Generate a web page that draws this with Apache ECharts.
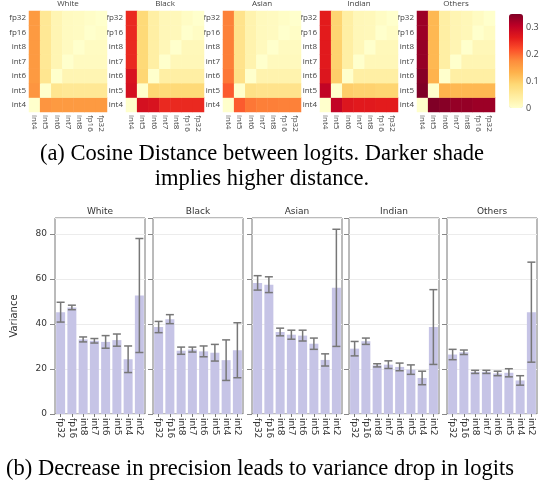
<!DOCTYPE html>
<html>
<head>
<meta charset="utf-8">
<script src="https://cdn.jsdelivr.net/npm/echarts@6/dist/echarts.min.js"></script>
<style>
  html, body { margin: 0; padding: 0; background: #fff; }
  #main { width: 544px; height: 491px; }
</style>
</head>
<body>
<div id="main"></div>
<script>
// groups shown in both rows of panels
const groups = ['White', 'Black', 'Asian', 'Indian', 'Others'];

// heatmap levels, index order used by the distance matrices
const hmLevels = ['int4', 'int5', 'int6', 'int7', 'int8', 'fp16', 'fp32'];

// cosine distance matrices (row/col order = hmLevels)
const distWhite = [
  [0, .165, .16, .16, .16, .16, .16],
  [.165, 0, .06, .055, .055, .055, .055],
  [.16, .06, 0, .025, .025, .025, .025],
  [.16, .055, .025, 0, .012, .012, .012],
  [.16, .055, .025, .012, 0, .01, .01],
  [.16, .055, .025, .012, .01, 0, .005],
  [.16, .055, .025, .012, .01, .005, 0]
];
const distBlack = [
  [0, .28, .275, .25, .25, .25, .25],
  [.28, 0, .09, .085, .085, .085, .085],
  [.275, .09, 0, .04, .04, .04, .04],
  [.25, .085, .04, 0, .02, .02, .02],
  [.25, .085, .04, .02, 0, .018, .018],
  [.25, .085, .04, .02, .018, 0, .008],
  [.25, .085, .04, .02, .018, .008, 0]
];
const distAsian = [
  [0, .21, .19, .185, .185, .183, .183],
  [.21, 0, .07, .065, .065, .065, .065],
  [.19, .07, 0, .03, .03, .03, .03],
  [.185, .065, .03, 0, .015, .015, .015],
  [.185, .065, .03, .015, 0, .012, .012],
  [.183, .065, .03, .015, .012, 0, .006],
  [.183, .065, .03, .015, .012, .006, 0]
];
const distIndian = [
  [0, .30, .27, .265, .265, .262, .262],
  [.30, 0, .1, .095, .095, .092, .092],
  [.27, .1, 0, .04, .04, .04, .04],
  [.265, .095, .04, 0, .02, .02, .02],
  [.265, .095, .04, .02, 0, .018, .018],
  [.262, .092, .04, .02, .018, 0, .008],
  [.262, .092, .04, .02, .018, .008, 0]
];
const distOthers = [
  [0, .35, .345, .335, .335, .33, .33],
  [.35, 0, .13, .125, .125, .125, .125],
  [.345, .13, 0, .04, .04, .04, .04],
  [.335, .125, .04, 0, .025, .025, .025],
  [.335, .125, .04, .025, 0, .02, .02],
  [.33, .125, .04, .025, .02, 0, .01],
  [.33, .125, .04, .025, .02, .01, 0]
];
const distAll = [distWhite, distBlack, distAsian, distIndian, distOthers];

// variance bars
const barLevels = ['fp32', 'fp16', 'int8', 'int7', 'int6', 'int5', 'int4', 'int2'];
const varWhite  = [45.2, 47.3, 33.1, 32.5, 32.0, 32.8, 24.3, 52.6];
const errWhite  = [4.4, 1.0, 1.1, 1.0, 2.8, 2.7, 5.9, 25.3];
const varBlack  = [38.6, 42.1, 28.1, 28.6, 27.8, 27.2, 23.9, 28.3];
const errBlack  = [2.5, 2.0, 1.6, 1.1, 2.4, 3.7, 9.0, 12.2];
const varAsian  = [58.2, 57.4, 36.4, 35.2, 34.8, 31.2, 24.0, 56.0];
const errAsian  = [3.2, 3.5, 1.7, 2.0, 2.4, 2.5, 2.7, 26.0];
const varIndian = [29.0, 32.3, 21.6, 21.9, 20.9, 19.7, 16.0, 38.6];
const errIndian = [3.2, 1.4, 0.7, 1.7, 1.7, 2.1, 3.0, 16.6];
const varOthers = [26.4, 27.4, 18.7, 18.7, 18.0, 18.3, 14.9, 45.2];
const errOthers = [2.3, 1.0, 0.7, 0.7, 1.0, 1.8, 2.1, 22.2];
const varAll = [varWhite, varBlack, varAsian, varIndian, varOthers];
const errAll = [errWhite, errBlack, errAsian, errIndian, errOthers];

const ylOrRd = ['#ffffcc', '#ffeda0', '#fed976', '#feb24c', '#fd8d3c', '#fc4e2a', '#e31a1c', '#bd0026', '#800026'];

const hmLeft = [29, 126, 223, 320, 417];
const barLeft = [55, 153, 252, 349, 447];

const grids = [], xAxes = [], yAxes = [], series = [], titles = [];

groups.forEach((g, i) => {
  grids.push({ left: hmLeft[i], top: 11, width: 78, height: 101 });
  xAxes.push({
    type: 'category', gridIndex: i, data: hmLevels,
    axisLine: { show: false }, axisTick: { show: false },
    axisLabel: { interval: 0, rotate: -90, fontSize: 8, color: '#444', margin: 3, fontFamily: 'Open Sans' }
  });
  yAxes.push({
    type: 'category', gridIndex: i, data: hmLevels,
    axisLine: { show: false }, axisTick: { show: false },
    axisLabel: { interval: 0, fontSize: 8, color: '#444', margin: 3, fontFamily: 'Open Sans' }
  });
  const d = [];
  distAll[i].forEach((row, r) => row.forEach((v, c) => d.push([c, r, v])));
  series.push({
    type: 'heatmap', xAxisIndex: i, yAxisIndex: i, data: d,
    itemStyle: { borderWidth: 0 }, emphasis: { disabled: true }
  });
  titles.push({
    text: g, left: hmLeft[i] + 39, top: 0, textAlign: 'center', padding: 0,
    textStyle: { fontSize: 8, fontWeight: 'normal', color: '#444', fontFamily: 'Open Sans' }
  });
});

function renderErr(params, api) {
  const k = api.value(0);
  const top = api.coord([k, api.value(2)]);
  const bot = api.coord([k, api.value(1)]);
  const w = 4;
  const st = { stroke: '#777', lineWidth: 1.5 };
  return {
    type: 'group', children: [
      { type: 'line', shape: { x1: top[0], y1: top[1], x2: bot[0], y2: bot[1] }, style: st },
      { type: 'line', shape: { x1: top[0] - w, y1: top[1], x2: top[0] + w, y2: top[1] }, style: st },
      { type: 'line', shape: { x1: bot[0] - w, y1: bot[1], x2: bot[0] + w, y2: bot[1] }, style: st }
    ]
  };
}

groups.forEach((g, i) => {
  const gi = 5 + i;
  grids.push({
    left: barLeft[i], top: 218, width: 90, height: 196,
    show: true, borderColor: '#777', borderWidth: 1
  });
  xAxes.push({
    type: 'category', gridIndex: gi, data: barLevels,
    axisLine: { show: false },
    axisTick: { show: true, alignWithLabel: true, length: 3, lineStyle: { color: '#777' } },
    axisLabel: { interval: 0, rotate: -90, fontSize: 9, color: '#333', margin: 4, fontFamily: 'DejaVu Sans' }
  });
  yAxes.push({
    type: 'value', gridIndex: gi, min: 0, max: 87, interval: 20,
    name: i === 0 ? 'Variance' : '', nameLocation: 'middle', nameGap: 36,
    nameTextStyle: { fontSize: 10, color: '#333', fontFamily: 'DejaVu Sans' },
    axisLine: { show: false },
    axisTick: { show: true, length: 5, lineStyle: { color: '#888' } },
    splitLine: { show: true, lineStyle: { color: '#ececec' } },
    axisLabel: { show: i === 0, fontSize: 9, color: '#333', showMaxLabel: false, fontFamily: 'DejaVu Sans' }
  });
  series.push({
    type: 'bar', xAxisIndex: gi, yAxisIndex: gi, data: varAll[i],
    barCategoryGap: '20%', itemStyle: { color: '#c6c4e6' }
  });
  series.push({
    type: 'custom', xAxisIndex: gi, yAxisIndex: gi, renderItem: renderErr, z: 5,
    encode: { x: 0, y: [1, 2] },
    data: varAll[i].map((v, k) => [k, v - errAll[i][k], v + errAll[i][k]])
  });
  titles.push({
    text: g, left: barLeft[i] + 45, top: 207, textAlign: 'center', padding: 0,
    textStyle: { fontSize: 9, fontWeight: 'normal', color: '#333', fontFamily: 'DejaVu Sans' }
  });
});

// colorbar tick labels
grids.push({ left: 509, top: 14, width: 14, height: 94 });
xAxes.push({ type: 'value', gridIndex: 10, show: false });
yAxes.push({
  type: 'value', gridIndex: 10, min: 0, max: 0.35, interval: 0.1, position: 'right',
  axisLine: { show: false }, axisTick: { show: false }, splitLine: { show: false },
  axisLabel: { fontSize: 9, color: '#444', margin: 3, showMaxLabel: false, fontFamily: 'Open Sans' }
});

titles.push({
  text: '(a) Cosine Distance between logits. Darker shade\nimplies higher distance.',
  left: 262, top: 142, textAlign: 'center', padding: 0,
  textStyle: { fontSize: 22.5, lineHeight: 25, fontWeight: 'normal', color: '#000', fontFamily: 'Liberation Serif' }
});
titles.push({
  text: '(b) Decrease in precision leads to variance drop in logits',
  left: 260, top: 458, textAlign: 'center', padding: 0,
  textStyle: { fontSize: 22.5, fontWeight: 'normal', color: '#000', fontFamily: 'Liberation Serif' }
});

const chart = echarts.init(document.getElementById('main'));
chart.setOption({
  animation: false,
  title: titles,
  grid: grids,
  xAxis: xAxes,
  yAxis: yAxes,
  visualMap: {
    type: 'continuous', min: 0, max: 0.35, seriesIndex: [0, 1, 2, 3, 4],
    left: 509, top: 14, itemWidth: 14, itemHeight: 94, padding: 0,
    calculable: false, inRange: { color: ylOrRd }
  },
  series: series
});
</script>
</body>
</html>
